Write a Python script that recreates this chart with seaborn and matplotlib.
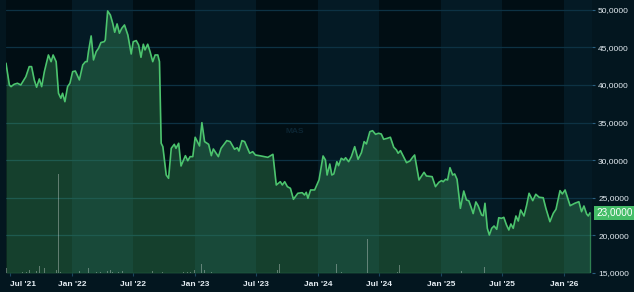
import matplotlib
matplotlib.use("Agg")
import matplotlib.pyplot as plt
import seaborn as sns
import pandas as pd

# ---------------- data ----------------
dates_2021 = ["2021-06-18", "2021-06-28", "2021-07-03", "2021-07-12", "2021-07-22", "2021-08-01",
              "2021-08-16", "2021-08-26", "2021-09-02", "2021-09-10", "2021-09-17", "2021-09-25",
              "2021-10-02", "2021-10-10", "2021-10-22", "2021-10-30", "2021-11-05", "2021-11-14",
              "2021-11-21", "2021-11-28", "2021-12-03", "2021-12-10", "2021-12-18", "2021-12-25"]
close_2021 = [42.89, 40.00, 39.78, 40.09, 40.23, 40.00, 41.10, 42.44, 42.44, 40.67, 39.70, 40.80,
              39.78, 41.77, 43.99, 43.10, 43.99, 43.10, 38.90, 38.23, 38.90, 37.78, 39.78, 40.23]

dates_2022 = ["2022-01-02", "2022-01-10", "2022-01-22", "2022-02-01", "2022-02-09", "2022-02-14",
              "2022-02-18", "2022-02-26", "2022-03-05", "2022-03-13", "2022-03-20", "2022-03-27",
              "2022-04-06", "2022-04-09", "2022-04-16", "2022-04-24", "2022-05-01", "2022-05-07",
              "2022-05-14", "2022-05-21", "2022-05-28", "2022-06-05", "2022-06-15", "2022-06-25",
              "2022-07-01", "2022-07-10", "2022-07-17", "2022-07-24", "2022-07-31", "2022-08-05",
              "2022-08-13", "2022-08-20", "2022-08-28", "2022-09-04", "2022-09-12", "2022-09-17",
              "2022-09-22", "2022-09-27", "2022-10-07", "2022-10-14", "2022-10-22", "2022-10-31",
              "2022-11-05", "2022-11-13", "2022-11-20", "2022-12-03", "2022-12-10", "2022-12-17",
              "2022-12-25"]
close_2022 = [41.77, 41.86, 40.67, 42.66, 43.10, 43.10, 44.43, 46.52, 43.33, 44.43, 44.88, 45.64,
              45.76, 45.99, 49.84, 49.31, 48.21, 47.01, 48.12, 46.88, 47.54, 47.98, 46.65, 44.12,
              45.76, 45.90, 45.32, 43.68, 45.42, 44.66, 45.42, 44.43, 43.10, 43.99, 43.99, 43.10,
              32.25, 31.80, 28.03, 27.59, 31.58, 32.11, 31.58, 32.25, 29.23, 30.60, 29.93, 30.47,
              30.47]

dates_2023 = ["2023-01-01", "2023-01-14", "2023-01-21", "2023-01-29", "2023-02-10", "2023-02-18",
              "2023-02-24", "2023-03-11", "2023-03-19", "2023-04-05", "2023-04-15", "2023-04-28",
              "2023-05-06", "2023-05-11", "2023-05-20", "2023-05-28", "2023-06-12", "2023-06-21",
              "2023-06-29", "2023-07-11", "2023-07-26", "2023-08-05", "2023-08-12", "2023-08-20",
              "2023-08-30", "2023-09-11", "2023-09-17", "2023-09-24", "2023-10-02", "2023-10-11",
              "2023-10-20", "2023-11-02", "2023-11-15", "2023-11-22", "2023-11-27", "2023-12-02",
              "2023-12-10", "2023-12-22"]
close_2023 = [33.05, 31.89, 34.99, 32.47, 32.11, 30.60, 31.49, 30.47, 31.58, 32.60, 32.47, 31.45,
              31.66, 31.22, 32.60, 32.47, 30.92, 31.13, 30.69, 30.60, 30.47, 30.38, 30.56, 30.78,
              26.70, 27.14, 26.70, 27.14, 26.48, 26.26, 24.80, 25.60, 25.68, 25.37, 25.73, 24.93,
              26.04, 26.04]

dates_2024 = ["2024-01-04", "2024-01-16", "2024-01-23", "2024-01-28", "2024-02-05", "2024-02-11",
              "2024-02-17", "2024-02-26", "2024-03-02", "2024-03-10", "2024-03-18", "2024-03-23",
              "2024-04-01", "2024-04-09", "2024-04-19", "2024-04-29", "2024-05-09", "2024-05-17",
              "2024-05-24", "2024-06-03", "2024-06-11", "2024-06-20", "2024-06-29", "2024-07-07",
              "2024-07-14", "2024-07-25", "2024-08-03", "2024-08-13", "2024-08-21", "2024-08-26",
              "2024-09-02", "2024-09-20", "2024-09-30", "2024-10-08", "2024-10-14", "2024-10-27",
              "2024-11-11", "2024-11-18", "2024-12-05", "2024-12-15", "2024-12-25"]
close_2024 = [27.37, 30.56, 30.03, 28.03, 29.49, 28.03, 28.17, 29.80, 29.27, 30.25, 30.03, 30.33,
              29.80, 30.47, 31.80, 30.12, 31.00, 32.47, 32.16, 33.79, 33.92, 33.44, 33.58, 33.48,
              32.78, 32.91, 33.05, 31.72, 31.36, 30.92, 31.27, 29.67, 29.89, 30.38, 30.69, 27.37,
              28.39, 27.90, 27.81, 26.48, 27.06]

dates_2025 = ["2025-01-02", "2025-01-07", "2025-01-14", "2025-01-20", "2025-01-27", "2025-02-04",
              "2025-02-10", "2025-02-17", "2025-02-27", "2025-03-09", "2025-03-17", "2025-03-24",
              "2025-04-01", "2025-04-06", "2025-04-14", "2025-04-21", "2025-05-01", "2025-05-06",
              "2025-05-11", "2025-05-18", "2025-05-24", "2025-05-31", "2025-06-07", "2025-06-15",
              "2025-06-21", "2025-06-29", "2025-07-06", "2025-07-14", "2025-07-21", "2025-07-27",
              "2025-08-03", "2025-08-11", "2025-08-18", "2025-08-25", "2025-09-04", "2025-09-12",
              "2025-09-19", "2025-09-30", "2025-10-09", "2025-10-19", "2025-10-31", "2025-11-08",
              "2025-11-20", "2025-11-30", "2025-12-08", "2025-12-20", "2025-12-27"]
close_2025 = [27.28, 27.14, 27.46, 27.37, 29.00, 28.03, 28.17, 27.46, 23.60, 25.90, 24.71, 24.60,
              23.60, 22.90, 24.45, 23.91, 22.71, 22.62, 24.27, 20.94, 20.05, 20.94, 21.25, 20.81,
              22.35, 22.27, 22.40, 21.38, 20.72, 21.52, 20.94, 22.58, 21.91, 23.38, 22.58, 24.04,
              25.60, 24.62, 25.47, 25.07, 25.01, 23.60, 21.82, 22.94, 23.47, 25.95, 25.51]

dates_2026 = ["2026-01-04", "2026-01-19", "2026-02-02", "2026-02-14", "2026-02-22", "2026-03-01",
              "2026-03-09", "2026-03-14", "2026-03-19"]
close_2026 = [26.04, 23.95, 24.27, 24.48, 23.15, 23.91, 22.85, 22.58, 23.00]

vol_dates = ["2021-06-20", "2021-08-06", "2021-08-18", "2021-08-28", "2021-09-17", "2021-09-25",
             "2021-10-10", "2021-11-14", "2021-11-20", "2021-11-26", "2022-01-22", "2022-02-18",
             "2022-03-13", "2022-03-25", "2022-04-16", "2022-04-24", "2022-05-01", "2022-05-11",
             "2022-05-18", "2022-05-29", "2022-08-28", "2022-09-25", "2022-11-20", "2022-11-28",
             "2022-12-10", "2022-12-17", "2022-12-30", "2023-01-21", "2023-01-29", "2023-02-18",
             "2023-09-02", "2023-09-09", "2024-01-13", "2024-02-25", "2024-03-10", "2024-03-15",
             "2024-05-26", "2024-08-23", "2024-08-31", "2025-01-27", "2025-03-02", "2025-05-09",
             "2025-05-26", "2025-06-04", "2026-01-04"]
vol_values = [4.7, 1.0, 1.3, 3.3, 2.0, 6.7, 4.7, 3.0, 99.0, 1.3, 2.0, 5.0,
              1.0, 1.3, 2.0, 3.3, 1.3, 1.0, 1.3, 2.0, 2.0, 1.0, 2.0, 1.3,
              1.3, 1.3, 3.0, 8.7, 3.3, 1.0, 3.0, 9.3, 47.0, 9.3, 1.3, 4.3,
              34.0, 1.3, 8.0, 3.0, 2.0, 6.0, 10.3, 1.0, 1.0]

y_ticks = [15, 20, 25, 30, 35, 40, 45, 50]
x_ticks = ["2021-07-01", "2022-01-01", "2022-07-01", "2023-01-01", "2023-07-01",
           "2024-01-01", "2024-07-01", "2025-01-01", "2025-07-01", "2026-01-01"]
last_price = 23.00
watermark = "MAS"

# ---------------- build ----------------
df = pd.DataFrame({
    "date": pd.to_datetime(dates_2021 + dates_2022 + dates_2023 + dates_2024 + dates_2025 + dates_2026),
    "close": close_2021 + close_2022 + close_2023 + close_2024 + close_2025 + close_2026,
})
vol = pd.DataFrame({"date": pd.to_datetime(vol_dates), "volume": vol_values})
xt = pd.to_datetime(x_ticks)

LINE = "#4cc46e"
FIG_BG = "#03161f"
DARK = "#010e14"
LIGHT = "#041a25"
GRID = "#0d3244"
TXT = "#e4ecf2"
FONT = ["Liberation Sans", "DejaVu Sans"]

sns.set_theme(style="dark")
plt.rcParams["font.family"] = FONT

fig = plt.figure(figsize=(6.34, 2.92), dpi=100, facecolor=FIG_BG)
ax = fig.add_axes([6 / 634, 19 / 292, 586 / 634, 273 / 292])
ax.set_facecolor(DARK)
ax2 = ax.twinx()

ymin, ymax = 15, 51.3
xmin = df["date"].iloc[0]
xmax = df["date"].iloc[-1] + pd.Timedelta(days=6)

# half-year background bands (Jan-Jul lighter)
for t in xt:
    if t.month == 1:
        ax.axvspan(t, t + pd.DateOffset(months=6), color=LIGHT, lw=0, zorder=0)

for v in y_ticks[1:]:
    ax.axhline(v, color=GRID, lw=0.9, zorder=1)

ax.fill_between(df["date"], df["close"], ymin, color=LINE, alpha=0.28, lw=0, zorder=2)
ax.plot([df["date"].iloc[-1]] * 2, [ymin, df["close"].iloc[-1]], color=LINE, alpha=0.55, lw=0.9, zorder=2)
ax.plot([df["date"].iloc[0], df["date"].iloc[-1]], [ymin + 0.05, ymin + 0.05], color=LINE, alpha=0.45,
        lw=0.9, zorder=2)

sns.lineplot(data=df, x="date", y="close", ax=ax, color=LINE, lw=1.2, estimator=None, zorder=4)

ax.text(0.493, 0.52, watermark, transform=ax.transAxes, color="#0c2533", fontsize=6, fontweight="bold",
        ha="center", va="center", zorder=1)

ax.set_xlim(xmin, xmax)
ax.set_ylim(ymin, ymax)
ax.set_xlabel("")
ax.set_ylabel("")
ax.grid(False)
for s in ax.spines.values():
    s.set_visible(False)

# volume bars
ax2.bar(vol["date"], vol["volume"], width=2.5, color="white", alpha=0.32, lw=0, zorder=3)
ax2.set_ylim(0, 273)
ax2.set_xlim(xmin, xmax)
ax2.set_yticks([])
ax2.grid(False)
ax2.set_ylabel("")
ax2.tick_params(axis="y", right=False, left=False, labelright=False, labelleft=False)
for s in ax2.spines.values():
    s.set_visible(False)

# price axis on the right
ax.yaxis.tick_right()
ax.yaxis.set_label_position("right")
ax.set_yticks(y_ticks)
ax.set_yticklabels([f"{v:.4f}".replace(".", ",") for v in y_ticks])
ax.tick_params(axis="y", which="both", right=True, left=False, labelright=True, labelleft=False,
               length=2.2, width=0.8, color="#2a5f80", labelcolor=TXT, labelsize=6, pad=2.2)

ax.set_xticks(xt)
ax.set_xticklabels([t.strftime("%b '%y") for t in xt])
ax.tick_params(axis="x", bottom=True, length=2.2, width=0.8, color="#1b4660", labelcolor=TXT,
               labelsize=6, pad=3.6)
for lab in ax.get_xticklabels():
    lab.set_fontweight("bold")
ax.get_xticklabels()[0].set_ha("left")

# last price tag
ax.annotate(f"{last_price:.4f}".replace(".", ","), xy=(1.0, last_price), xycoords=("axes fraction", "data"),
            xytext=(3, 0), textcoords="offset points", ha="left", va="center", color="white", fontsize=7.2,
            bbox=dict(boxstyle="square,pad=0.18", fc="#45bd68", ec="none"), zorder=10, annotation_clip=False)

fig.savefig("out.png", dpi=100, facecolor=FIG_BG)
